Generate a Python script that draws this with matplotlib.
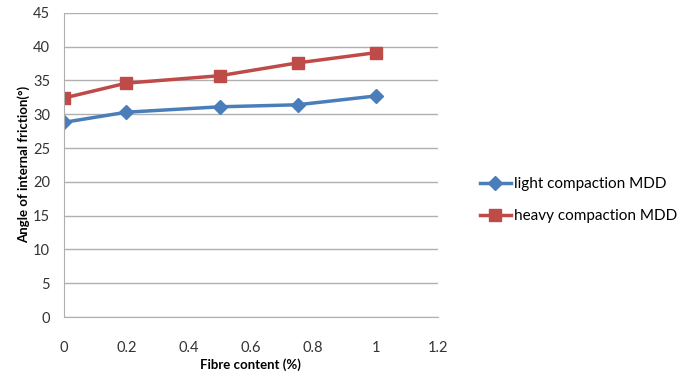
import matplotlib
matplotlib.use("Agg")
import matplotlib.pyplot as plt

fibre = [0, 0.2, 0.5, 0.75, 1]
light_mdd = [28.8, 30.3, 31.1, 31.4, 32.7]
heavy_mdd = [32.4, 34.6, 35.7, 37.6, 39.1]
xticks = [0, 0.2, 0.4, 0.6, 0.8, 1, 1.2]
yticks = [0, 5, 10, 15, 20, 25, 30, 35, 40, 45]

plt.rcParams['font.family'] = ['Lato', 'DejaVu Sans']

fig = plt.figure(figsize=(6.91, 3.85), dpi=100)
ax = fig.add_axes([0.0926, 0.1766, 0.541, 0.79])

ax.plot(fibre, light_mdd, color='#4A7EBB', lw=2.5, marker='D', ms=7,
        label='light compaction MDD')
ax.plot(fibre, heavy_mdd, color='#BE4B48', lw=2.5, marker='s', ms=9,
        label='heavy compaction MDD')

ax.set_xlim(0, 1.2)
ax.set_ylim(0, 45)
ax.set_xticks(xticks)
ax.set_xticklabels(['0', '0.2', '0.4', '0.6', '0.8', '1', '1.2'])
ax.set_yticks(yticks)
ax.tick_params(length=0, labelsize=10.5, colors='#333333')
ax.tick_params(axis='x', pad=17)
ax.tick_params(axis='y', pad=10)
ax.grid(axis='y', color='#b0b0b0', lw=1)
ax.set_axisbelow(True)
for s in ['top', 'right']:
    ax.spines[s].set_visible(False)
for s in ['left', 'bottom']:
    ax.spines[s].set_color('#b0b0b0')

ax.set_xlabel('Fibre content (%)', fontsize=9.5, fontweight='bold', labelpad=3)
ax.set_ylabel('Angle of internal friction(\u00b0)', fontsize=9.5, fontweight='bold', labelpad=2)

fig.legend(loc='center left', bbox_to_anchor=(0.675, 0.48), frameon=False,
           fontsize=11, handlelength=2.0, labelspacing=1.2, handletextpad=0.2)

fig.savefig('out.png', dpi=100)
